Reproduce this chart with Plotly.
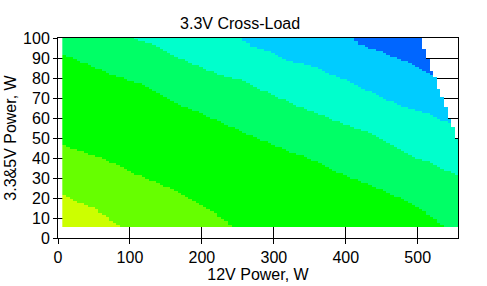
import numpy as np
import plotly.graph_objects as go

# ---- data (boundaries between colour levels) ----
# 12V power (W) knots and 3.3&5V power (W) where each colour band ends
b1_x = [0, 15, 30, 50, 65, 75, 90, 110]
b1_y = [23.5, 20, 17.5, 15, 11, 8.2, 5.2, 1]

b2_x = [0, 26, 68, 95, 128, 160, 188, 211, 230, 246, 270]
b2_y = [47, 44, 39, 34, 29, 24, 19, 14, 9, 5, 0]

b3_x = [0, 40, 72, 114, 142, 169, 201, 225, 253, 276, 300, 322, 343, 359, 373,
        387, 401, 426, 451, 465, 484, 507, 525, 540, 560]
b3_y = [93, 87, 82, 77, 72, 66.5, 62, 58, 53.5, 50, 46.5, 43, 40.5, 38, 35.5,
        33, 31, 27.5, 23.7, 21.2, 18.7, 13.7, 8.7, 5, 0]

b4_x = [100, 110, 137, 160, 188, 220, 262, 280, 308, 336, 359, 382, 405, 433,
        447, 461, 472, 484, 498, 512, 523, 537, 549, 560]
b4_y = [102, 99.3, 96, 91, 87, 82, 78.3, 74.5, 70, 65.5, 62.5, 59, 56, 52.5,
        50, 47.5, 45, 42.5, 40, 38.3, 36.7, 34.2, 32.5, 30.5]

b5_x = [240, 255, 267, 304, 320, 359, 378, 396, 410, 424, 445, 470, 498, 514, 528, 560]
b5_y = [103, 100, 96, 91.9, 88.6, 85.5, 82, 79.5, 77, 74.5, 71.2, 67, 63.6, 62, 59.5, 55]

b6_x = [395, 409, 419, 438, 452, 470, 486, 500, 512, 530]
b6_y = [103, 100, 96.8, 94.4, 92.7, 90, 87.7, 85, 82.6, 79]

# upper limit of the measured region
lim_x = [500, 504, 507, 512, 515, 519, 525, 528, 533, 537, 541, 544, 548, 551, 553, 556, 560]
lim_y = [101, 100, 95.7, 91.6, 87.5, 83.3, 79, 75, 71, 67, 63, 58.7, 55.8, 52.5, 50, 48.3, 40]

level_colors = ["#ccff00", "#66ff00", "#00ff00", "#00ff66", "#00ffcc", "#00ccff", "#0066ff"]

x_ticks = [0, 100, 200, 300, 400, 500]
y_ticks = list(range(0, 101, 10))

# ---- measurement grid ----
xc = 8.5 + 5 * np.arange(110)          # 12V power centres
yc = np.arange(6, 101, 1.0)            # 3.3&5V power centres
XX, YY = np.meshgrid(xc, yc)

bounds = [(b1_x, b1_y), (b2_x, b2_y), (b3_x, b3_y),
          (b4_x, b4_y), (b5_x, b5_y), (b6_x, b6_y)]
Z = np.zeros_like(XX)
for bx, by in bounds:
    Z += (YY > np.interp(XX, bx, by)).astype(float)
Z[YY > np.interp(XX, lim_x, lim_y)] = np.nan

n = len(level_colors)
cscale = []
for i, c in enumerate(level_colors):
    cscale.append([i / n, c])
    cscale.append([(i + 1) / n, c])

fig = go.Figure(go.Heatmap(
    x=xc, y=yc, z=Z, colorscale=cscale, zmin=-0.5, zmax=n - 0.5,
    showscale=False, hoverinfo="skip"))

font = dict(family="Liberation Sans, Arial, sans-serif", color="black")
fig.update_layout(
    width=487, height=286,
    margin=dict(l=58.3, r=28.7, t=38.3, b=47.7),
    paper_bgcolor="white", plot_bgcolor="white",
    font=dict(size=16, **font),
    title=dict(text="3.3V Cross-Load", x=0.493, xanchor="center",
               y=1 - 23 / 286, yanchor="middle", font=dict(size=16, **font)),
)
axis_common = dict(showgrid=True, gridcolor="black", gridwidth=1,
                   showline=True, linecolor="black", linewidth=1, mirror=True,
                   ticks="outside", tickcolor="black", tickwidth=1,
                   zeroline=False, automargin=False,
                   tickfont=dict(size=16, **font))
fig.update_xaxes(range=[0, 556], tickvals=x_ticks, ticklen=5,
                 title=dict(text="12V Power, W", font=dict(size=16, **font), standoff=2),
                 **axis_common)
fig.update_yaxes(range=[0, 100], tickvals=y_ticks, ticklen=4,
                 title=dict(text="3.3&5V Power, W", font=dict(size=16, **font), standoff=2),
                 **axis_common)

fig.write_html("out.html")
